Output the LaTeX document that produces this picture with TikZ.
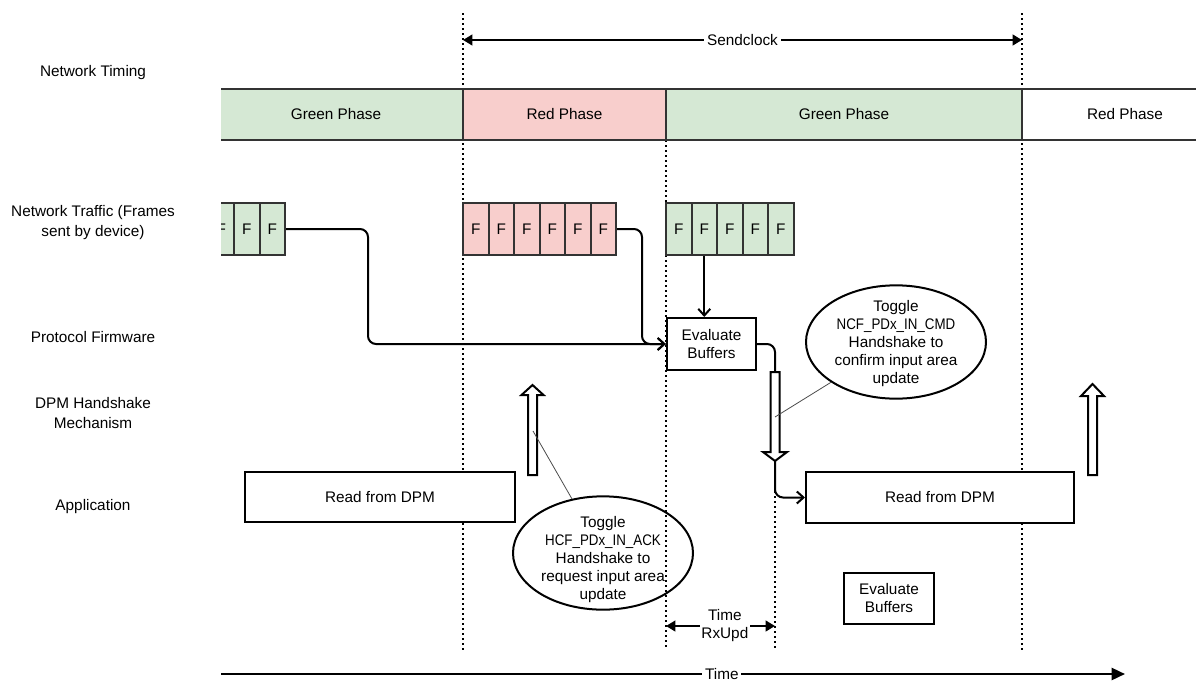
\documentclass[tikz,border=0pt]{standalone}
\usepackage{fontspec}
\usepackage{graphicx}
\setmainfont{Liberation Sans}
\usetikzlibrary{shapes.geometric,arrows.meta}

\definecolor{greenph}{HTML}{D5E8D4}
\definecolor{redph}{HTML}{F8CECC}
\definecolor{edgegray}{HTML}{333333}

\begin{document}
\begin{tikzpicture}[x=0.75pt,y=-0.75pt,font=\fontsize{11.5}{13.5}\selectfont]
\tikzstyle{phase} = [draw=edgegray, line width=1.5pt, minimum height=38.25pt, inner sep=0pt]
\tikzstyle{frame} = [draw=edgegray, line width=1.5pt, minimum width=19.125pt, minimum height=39pt, inner sep=0pt]
\tikzstyle{box} = [draw=black, line width=1.5pt, fill=white, align=center, inner sep=0pt]
\tikzstyle{bubble} = [ellipse, draw=black, line width=1.5pt, inner sep=0pt, minimum width=135pt, minimum height=85pt]
\tikzstyle{conn} = [draw=black, line width=1.5pt, rounded corners=6pt, -{Straight Barb[length=5pt,width=9pt]}]
\tikzstyle{wire} = [draw=black, line width=1.5pt, rounded corners=6pt]
\tikzstyle{span} = [draw=black, line width=1.5pt, {Triangle[length=7pt,width=8pt]}-{Triangle[length=7pt,width=8pt]}]
\tikzstyle{timeline} = [draw=black, line width=1.8pt, -{Triangle[length=10pt,width=9pt]}]
\tikzstyle{divider} = [draw=black, line width=1.5pt, dash pattern=on 1.5pt off 2.25pt]
\tikzstyle{hollow} = [draw=black, line width=1.5pt, fill=white, line join=miter]
\tikzstyle{pointer} = [draw=black!70, line width=0.6pt]
\tikzstyle{rowlabel} = [align=center, font=\fontsize{11.5}{15}\selectfont]
\newcommand{\flagname}[1]{\scalebox{0.87}[1]{#1}}

\useasboundingbox (0,0) rectangle (1196,682);

\node[rowlabel] (lt) at (93,73) {Network Timing};
\node[rowlabel] (ln) at (93,223) {Network Traffic (Frames\\sent by device)};
\node[rowlabel] (lp) at (93,337) {Protocol Firmware};
\node[rowlabel] (ld) at (93,413) {DPM Handshake\\Mechanism};
\node[rowlabel] (la) at (93,507) {Application};

\draw[divider] (463,13) -- (463,650);
\draw[divider] (666,140) -- (666,650);
\draw[divider] (1022,13) -- (1022,650);
\draw[divider] (775,461) -- (775,650);

\coordinate (sc1) at (463,40);
\coordinate (sc2) at (1022,40);
\draw[span] (sc1) -- node[fill=white, inner sep=2pt] {Sendclock} (sc2);

\begin{scope}
\clip (221,0) rectangle (1196,682);
\node[phase, fill=greenph, minimum width=190.5pt] (p1) at (336,114) {Green Phase};
\node[phase, fill=redph, minimum width=152.25pt] (p2) at (564.5,114) {Red Phase};
\node[phase, fill=greenph, minimum width=267pt] (p3) at (844,114) {Green Phase};
\node[phase, fill=white, minimum width=154.5pt] (p4) at (1125,114) {Red Phase};
\foreach \i in {1,2,3}
  \node[frame, fill=greenph] (a\i) at (195.75+25.5*\i,229) {F};
\end{scope}

\foreach \i in {1,...,6}
  \node[frame, fill=redph] (r\i) at (450.25+25.5*\i,229) {F};
\foreach \i in {1,...,5}
  \node[frame, fill=greenph] (g\i) at (653.25+25.5*\i,229) {F};

\node[box, minimum width=67pt, minimum height=39pt] (eb1) at (711.5,344) {Evaluate\\Buffers};
\node[box, minimum width=67.5pt, minimum height=38pt] (eb2) at (889,598.5) {Evaluate\\Buffers};
\node[box, minimum width=202.5pt, minimum height=37.5pt] (rd1) at (380,497) {Read from DPM};
\node[box, minimum width=201pt, minimum height=38.25pt] (rd2) at (940,497.5) {Read from DPM};

\node[bubble] (hcf) at (603,553) {};
\node[align=center] (hcft) at (603,560) {Toggle\\\flagname{HCF\_PDx\_IN\_ACK}\\Handshake to\\request input area\\update};
\node[bubble] (ncf) at (896,342) {};
\node[align=center] (ncft) at (896,344) {Toggle\\\flagname{NCF\_PDx\_IN\_CMD}\\Handshake to\\confirm input area\\update};

\draw[conn] (a3.east) -| (368,300) |- (eb1.west);
\draw[conn] (r6.east) -| (642,300) |- (eb1.west);
\draw[conn] (g2.south) -- (g2.south |- eb1.north);

\coordinate (dtop) at (775,372);
\coordinate (dtip) at (775,461);
\draw[wire] (eb1.east) -| (dtop);
\draw[hollow] (770.5,372) -- (770.5,452) -- (763,452) -- (dtip) -- (787,452) -- (779.5,452) -- (779.5,372) -- cycle;
\draw[conn] (dtip) |- (rd2.west);

\draw[hollow] (528,475) -- (528,395) -- (521.5,395) -- (532.5,385) -- (543.5,395) -- (537,395) -- (537,475) -- cycle;
\draw[hollow] (1088,475) -- (1088,396) -- (1081,396) -- (1092.5,384) -- (1104,396) -- (1097,396) -- (1097,475) -- cycle;

\coordinate (upl) at (533,431);
\draw[pointer] (hcf) -- (upl);
\coordinate (dnm) at (775,417);
\draw[pointer] (ncf) -- (dnm);

\coordinate (rx0) at (666,626);
\coordinate (rx1) at (775,626);
\draw[span] (rx0) -- node[pos=0.54, fill=white, align=center, inner sep=1pt] {Time\\RxUpd} (rx1);

\coordinate (t0) at (221,674);
\coordinate (t1) at (1125,674);
\draw[timeline] (t0) -- node[pos=0.554, fill=white, inner sep=2pt] {Time} (t1);
\end{tikzpicture}
\end{document}
